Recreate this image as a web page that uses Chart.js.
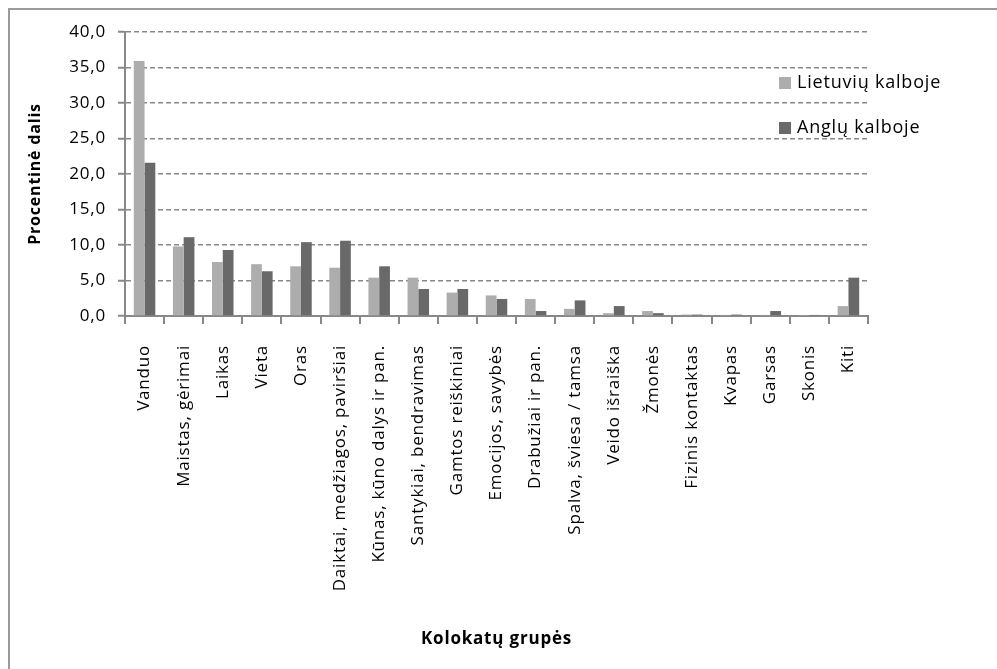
<!DOCTYPE html>
<html>
<head>
<meta charset="utf-8">
<script src="https://cdn.jsdelivr.net/npm/chart.js@4.4.1/dist/chart.umd.min.js"></script>
<style>
  html, body { margin: 0; padding: 0; background: #fff; }
  #frame { position: absolute; left: 8px; top: 8px; width: 1000px; height: 700px;
           border-left: 2px solid #9a9a9a; border-top: 2px solid #9a9a9a; }
  #chart { position: absolute; left: 0; top: 0; }
</style>
</head>
<body>
<div id="frame"></div>
<canvas id="chart" width="997" height="669"></canvas>
<script>
// kolokatų grupės ir jų procentinės dalys
const categories = [
  'Vanduo', 'Maistas, gėrimai', 'Laikas', 'Vieta', 'Oras',
  'Daiktai, medžiagos, paviršiai', 'Kūnas, kūno dalys ir pan.',
  'Santykiai, bendravimas', 'Gamtos reiškiniai', 'Emocijos, savybės',
  'Drabužiai ir pan.', 'Spalva, šviesa / tamsa', 'Veido išraiška',
  'Žmonės', 'Fizinis kontaktas', 'Kvapas', 'Garsas', 'Skonis', 'Kiti'
]
const lietuviu = [35.9, 9.8, 7.6, 7.3, 7.0, 6.8, 5.4, 5.4, 3.3, 2.9, 2.4, 1.0, 0.4, 0.7, 0.2, 0.15, 0.15, 0.05, 1.4]
const anglu = [21.6, 11.1, 9.3, 6.3, 10.4, 10.6, 7.0, 3.8, 3.8, 2.4, 0.7, 2.2, 1.4, 0.4, 0.2, 0.2, 0.7, 0.15, 5.4]
const seriesNames = ['Lietuvių kalboje', 'Anglų kalboje']
const yTicks = [0, 5, 10, 15, 20, 25, 30, 35, 40]

const FONT = '"Open Sans", "Noto Sans", sans-serif'
const SPACING = '0.8px'

// šiek tiek platesni tarpai tarp raidžių
const letterSpacing = {
  id: 'letterSpacing',
  beforeLayout(chart) { chart.ctx.letterSpacing = SPACING },
  beforeDraw(chart) { chart.ctx.letterSpacing = SPACING }
}

// legenda braižoma pačioje diagramos srityje
const legendBox = {
  id: 'legendBox',
  afterDraw(chart, args, opts) {
    const { ctx } = chart
    ctx.save()
    ctx.letterSpacing = SPACING
    ctx.font = '18px ' + FONT
    ctx.textBaseline = 'middle'
    chart.data.datasets.forEach((ds, i) => {
      const y = opts.y + i * opts.gap
      ctx.fillStyle = ds.backgroundColor
      ctx.fillRect(opts.x, y - 6, 12, 12)
      ctx.fillStyle = '#000'
      ctx.fillText(ds.label, opts.x + 18, y)
    })
    ctx.restore()
  }
}

const ctx = document.getElementById('chart')
new Chart(ctx, {
  type: 'bar',
  data: {
    labels: categories,
    datasets: [
      { label: seriesNames[0], data: lietuviu, backgroundColor: '#adadad' },
      { label: seriesNames[1], data: anglu, backgroundColor: '#696969' }
    ]
  },
  plugins: [letterSpacing, legendBox],
  options: {
    responsive: false,
    animation: false,
    devicePixelRatio: 1,
    categoryPercentage: 0.55,
    barPercentage: 1.0,
    layout: { padding: { top: 32, right: 129, left: 0, bottom: 0 } },
    plugins: {
      legend: { display: false },
      tooltip: { enabled: false },
      legendBox: { x: 779, y: 83, gap: 45 }
    },
    scales: {
      x: {
        grid: { offset: true, drawOnChartArea: false, drawTicks: true, tickLength: 8, color: '#888', lineWidth: 2 },
        border: { color: '#888', width: 2 },
        ticks: { autoSkip: false, minRotation: 90, maxRotation: 90, padding: 21, color: '#000', font: { family: FONT, size: 17 } },
        title: { display: true, text: 'Kolokatų grupės', color: '#000',
                 font: { family: FONT, size: 17, weight: 'bold' }, padding: { top: 0, bottom: 20 } },
        afterFit(scale) { scale.height = 353 }
      },
      y: {
        min: 0,
        max: 40,
        afterBuildTicks(scale) { scale.ticks = yTicks.map(v => ({ value: v })) },
        grid: { color: '#888', lineWidth: 1.5, tickLength: 7, tickColor: '#888', tickWidth: 2 },
        border: { color: '#888', width: 2, dash: [5, 3] },
        ticks: { padding: 12, color: '#000', font: { family: FONT, size: 17 },
                 callback: v => v.toFixed(1).replace('.', ',') },
        title: { display: true, text: 'Procentinė dalis', color: '#000',
                 font: { family: FONT, size: 16, weight: 'bold' }, padding: { top: 26, bottom: 0 } },
        afterFit(scale) { scale.width = 125 }
      }
    }
  }
})
</script>
</body>
</html>
